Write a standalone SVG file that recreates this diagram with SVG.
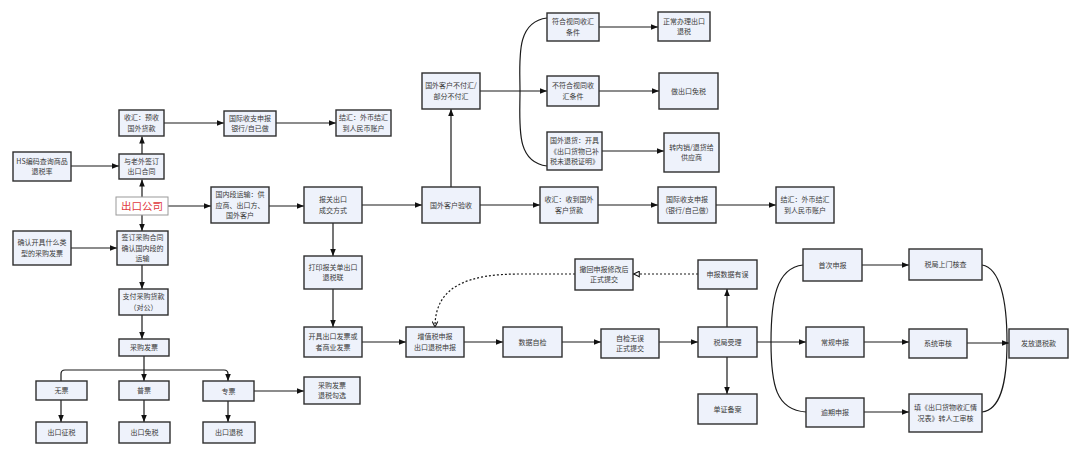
<svg xmlns="http://www.w3.org/2000/svg" width="1080" height="454" viewBox="0 0 1080 454">
<defs>
<style>
.b{fill:#eef2fb;stroke:#2e2e2e;stroke-width:1.4}
.t{font-family:"Noto Sans CJK SC","Noto Sans",sans-serif;font-size:7px;fill:#3a3a3a;text-anchor:middle}
.r{font-family:"Noto Sans CJK SC","Noto Sans",sans-serif;font-size:10.5px;fill:#e0393e;text-anchor:middle}
.c{fill:none;stroke:#1a1a1a;stroke-width:1.2}
.d{fill:none;stroke:#1a1a1a;stroke-width:1.2;stroke-dasharray:2 2}
</style>
<marker id="a" viewBox="0 0 10 10" refX="10" refY="5" markerWidth="7" markerHeight="7" orient="auto" markerUnits="userSpaceOnUse"><path d="M0,1 L10,5 L0,9 z" fill="#111"/></marker>
<marker id="o" viewBox="0 0 10 10" refX="10" refY="5" markerWidth="7" markerHeight="7" orient="auto" markerUnits="userSpaceOnUse"><path d="M1,1 L9,5 L1,9 z" fill="#fff" stroke="#111" stroke-width="1.5"/></marker>
<marker id="v" viewBox="0 0 10 10" refX="9" refY="5" markerWidth="7" markerHeight="7" orient="auto" markerUnits="userSpaceOnUse"><path d="M1,1 L9,5 L1,9" fill="none" stroke="#111" stroke-width="1.5"/></marker>
</defs>
<rect width="1080" height="454" fill="#fff"/>
<g id="connectors">
<path class="c" marker-end="url(#a)" d="M142,197 V179.5"/>
<path class="c" marker-end="url(#a)" d="M142,154 V136.5"/>
<path class="c" marker-end="url(#a)" d="M164,123 H224"/>
<path class="c" marker-end="url(#a)" d="M276,123 H336"/>
<path class="c" marker-end="url(#a)" d="M71,166 H119"/>
<path class="c" marker-end="url(#a)" d="M142,215 V231"/>
<path class="c" marker-end="url(#a)" d="M71,248 H117"/>
<path class="c" marker-end="url(#a)" d="M142,265 V289"/>
<path class="c" marker-end="url(#a)" d="M142,315 V339"/>
<path class="c" marker-end="url(#a)" d="M144,356 V381"/>
<path class="c" marker-end="url(#a)" d="M61,381 V374 Q61,370 65,370 H224 Q228,370 228,374 V381"/>
<path class="c" marker-end="url(#a)" d="M61,400 V422"/>
<path class="c" marker-end="url(#a)" d="M144,400 V422"/>
<path class="c" marker-end="url(#a)" d="M228,401 V422"/>
<path class="c" marker-end="url(#a)" d="M254,391 H304"/>
<path class="c" marker-end="url(#a)" d="M168,206 H211"/>
<path class="c" marker-end="url(#a)" d="M269,206 H304"/>
<path class="c" marker-end="url(#a)" d="M362,205 H422"/>
<path class="c" marker-end="url(#a)" d="M333,223 V256"/>
<path class="c" marker-end="url(#a)" d="M333,289 V327"/>
<path class="c" marker-end="url(#a)" d="M362,342 H406"/>
<path class="c" marker-end="url(#a)" d="M464,342 H503"/>
<path class="c" marker-end="url(#a)" d="M562,342 H601"/>
<path class="c" marker-end="url(#a)" d="M659,342 H698"/>
<path class="c" marker-end="url(#a)" d="M451,187 V109"/>
<path class="c" marker-end="url(#a)" d="M480,91 H547"/>
<path class="c" d="M547,18 C515,22 520,60 520,91 C520,125 515,162 547,166"/>
<path class="c" marker-end="url(#a)" d="M599,27 H658"/>
<path class="c" marker-end="url(#a)" d="M599,91 H659"/>
<path class="c" marker-end="url(#a)" d="M602,151 H664"/>
<path class="c" marker-end="url(#a)" d="M480,205 H540"/>
<path class="c" marker-end="url(#a)" d="M598,205 H658"/>
<path class="c" marker-end="url(#a)" d="M716,205 H776"/>
<path class="c" marker-end="url(#a)" d="M727,327 V289"/>
<path class="c" marker-end="url(#a)" d="M727,357 V394"/>
<path class="d" marker-end="url(#o)" d="M698,274 H633"/>
<path class="d" marker-end="url(#v)" d="M575,274 H520 C470,274 435,285 435,327"/>
<path class="c" marker-end="url(#a)" d="M757,342 H806"/>
<path class="c" d="M803,265 C776,268 771,300 771,342 C771,385 776,410 806,412"/>
<path class="c" marker-end="url(#a)" d="M862,265 H909"/>
<path class="c" marker-end="url(#a)" d="M864,342 H909"/>
<path class="c" marker-end="url(#a)" d="M864,412 H909"/>
<path class="c" d="M982,265 C1000,268 1007,300 1007,342 C1007,385 1000,410 982,412"/>
<path class="c" marker-end="url(#a)" d="M967,343 H1009"/>
</g>
<g id="recv1"><rect class="b" x="119" y="110" width="45" height="26"/><text class="t" x="141.5" y="120.4">收汇：预收</text><text class="t" x="141.5" y="130.9">国外货款</text></g>
<g id="intl1"><rect class="b" x="224" y="111" width="52" height="25"/><text class="t" x="250" y="120.9">国际收支申报</text><text class="t" x="250" y="131.4">银行/自已做</text></g>
<g id="fx1"><rect class="b" x="336" y="110" width="55" height="26"/><text class="t" x="363.5" y="120.4">结汇：外币结汇</text><text class="t" x="363.5" y="130.9">到人民币账户</text></g>
<g id="hs"><rect class="b" x="13" y="152" width="58" height="29"/><text class="t" x="42" y="163.9">HS编码查询商品</text><text class="t" x="42" y="174.4">退税率</text></g>
<g id="contract"><rect class="b" x="119" y="154" width="45" height="25"/><text class="t" x="141.5" y="163.9">与老外签订</text><text class="t" x="141.5" y="174.4">出口合同</text></g>
<g id="company"><rect x="116" y="197" width="52" height="18" fill="#fff" stroke="#9a9a9a" stroke-width="1"/><text class="r" x="142" y="209.8">出口公司</text></g>
<g id="domestic"><rect class="b" x="211" y="187" width="58" height="36"/><text class="t" x="240" y="197.1">国内段运输：供</text><text class="t" x="240" y="207.6">应商、出口方、</text><text class="t" x="240" y="218.1">国外客户</text></g>
<g id="confirm"><rect class="b" x="13" y="231" width="58" height="34"/><text class="t" x="42" y="245.4">确认开具什么类</text><text class="t" x="42" y="255.9">型的采购发票</text></g>
<g id="purchase"><rect class="b" x="117" y="231" width="51" height="34"/><text class="t" x="142.5" y="240.1">签订采购合同</text><text class="t" x="142.5" y="250.6">确认国内段的</text><text class="t" x="142.5" y="261.1">运输</text></g>
<g id="pay"><rect class="b" x="119" y="289" width="49" height="26"/><text class="t" x="143.5" y="299.4">支付采购货款</text><text class="t" x="143.5" y="309.9">（对公）</text></g>
<g id="invoice"><rect class="b" x="119" y="339" width="50" height="17"/><text class="t" x="144" y="350.1">采购发票</text></g>
<g id="none"><rect class="b" x="36" y="381" width="51" height="19"/><text class="t" x="61.5" y="393.1">无票</text></g>
<g id="normal"><rect class="b" x="119" y="381" width="50" height="19"/><text class="t" x="144" y="393.1">普票</text></g>
<g id="special"><rect class="b" x="203" y="381" width="51" height="20"/><text class="t" x="228.5" y="393.6">专票</text></g>
<g id="levy"><rect class="b" x="36" y="422" width="51" height="21"/><text class="t" x="61.5" y="435.1">出口征税</text></g>
<g id="exempt"><rect class="b" x="119" y="422" width="51" height="21"/><text class="t" x="144.5" y="435.1">出口免税</text></g>
<g id="refund"><rect class="b" x="203" y="422" width="52" height="21"/><text class="t" x="229" y="435.1">出口退税</text></g>
<g id="check"><rect class="b" x="304" y="377" width="56" height="27"/><text class="t" x="332" y="387.9">采购发票</text><text class="t" x="332" y="398.4">退税勾选</text></g>
<g id="customs"><rect class="b" x="304" y="187" width="58" height="36"/><text class="t" x="333" y="202.4">报关出口</text><text class="t" x="333" y="212.9">成交方式</text></g>
<g id="print"><rect class="b" x="304" y="256" width="58" height="33"/><text class="t" x="333" y="269.9">打印报关单出口</text><text class="t" x="333" y="280.4">退税联</text></g>
<g id="issue"><rect class="b" x="304" y="327" width="58" height="30"/><text class="t" x="333" y="339.4">开具出口发票或</text><text class="t" x="333" y="349.9">者商业发票</text></g>
<g id="accept"><rect class="b" x="422" y="187" width="58" height="36"/><text class="t" x="451" y="207.6">国外客户验收</text></g>
<g id="unpaid"><rect class="b" x="422" y="73" width="58" height="36"/><text class="t" x="451" y="88.4">国外客户不付汇/</text><text class="t" x="451" y="98.9">部分不付汇</text></g>
<g id="meet"><rect class="b" x="547" y="13" width="52" height="28"/><text class="t" x="573" y="24.4">符合视同收汇</text><text class="t" x="573" y="34.9">条件</text></g>
<g id="notmeet"><rect class="b" x="547" y="76" width="52" height="30"/><text class="t" x="573" y="88.4">不符合视同收</text><text class="t" x="573" y="98.9">汇条件</text></g>
<g id="returned"><rect class="b" x="547" y="132" width="55" height="38"/><text class="t" x="574.5" y="143.1">国外退货：开具</text><text class="t" x="574.5" y="153.6">《出口货物已补</text><text class="t" x="574.5" y="164.1">税未退税证明》</text></g>
<g id="normalref"><rect class="b" x="658" y="12" width="52" height="29"/><text class="t" x="684" y="23.9">正常办理出口</text><text class="t" x="684" y="34.4">退税</text></g>
<g id="doexempt"><rect class="b" x="659" y="73" width="59" height="36"/><text class="t" x="688.5" y="93.6">做出口免税</text></g>
<g id="resale"><rect class="b" x="664" y="133" width="55" height="39"/><text class="t" x="691.5" y="149.9">转内销/退货给</text><text class="t" x="691.5" y="160.4">供应商</text></g>
<g id="recv2"><rect class="b" x="540" y="187" width="58" height="36"/><text class="t" x="569" y="202.4">收汇：收到国外</text><text class="t" x="569" y="212.9">客户货款</text></g>
<g id="intl2"><rect class="b" x="658" y="187" width="58" height="36"/><text class="t" x="687" y="202.4">国际收支申报</text><text class="t" x="687" y="212.9">（银行/自己做）</text></g>
<g id="fx2"><rect class="b" x="776" y="187" width="58" height="36"/><text class="t" x="805" y="202.4">结汇：外币结汇</text><text class="t" x="805" y="212.9">到人民币账户</text></g>
<g id="vat"><rect class="b" x="406" y="327" width="58" height="30"/><text class="t" x="435" y="339.4">增值税申报</text><text class="t" x="435" y="349.9">出口退税申报</text></g>
<g id="selfcheck"><rect class="b" x="503" y="327" width="59" height="30"/><text class="t" x="532.5" y="344.6">数据自检</text></g>
<g id="submit"><rect class="b" x="601" y="329" width="58" height="29"/><text class="t" x="630" y="340.9">自检无误</text><text class="t" x="630" y="351.4">正式提交</text></g>
<g id="taxacc"><rect class="b" x="698" y="327" width="59" height="30"/><text class="t" x="727.5" y="344.6">税局受理</text></g>
<g id="error"><rect class="b" x="698" y="260" width="59" height="29"/><text class="t" x="727.5" y="277.1">申报数据有误</text></g>
<g id="withdraw"><rect class="b" x="575" y="259" width="58" height="31"/><text class="t" x="604" y="271.9">撤回申报修改后</text><text class="t" x="604" y="282.4">正式提交</text></g>
<g id="filing"><rect class="b" x="698" y="394" width="59" height="30"/><text class="t" x="727.5" y="411.6">单证备案</text></g>
<g id="first"><rect class="b" x="803" y="249" width="59" height="32"/><text class="t" x="832.5" y="267.6">首次申报</text></g>
<g id="inspect"><rect class="b" x="909" y="249" width="73" height="31"/><text class="t" x="945.5" y="267.1">税局上门核查</text></g>
<g id="regular"><rect class="b" x="806" y="327" width="58" height="30"/><text class="t" x="835" y="344.6">常规申报</text></g>
<g id="sysreview"><rect class="b" x="909" y="329" width="58" height="29"/><text class="t" x="938" y="346.1">系统审核</text></g>
<g id="payout"><rect class="b" x="1009" y="329" width="59" height="29"/><text class="t" x="1038.5" y="346.1">发放退税款</text></g>
<g id="overdue"><rect class="b" x="806" y="398" width="58" height="29"/><text class="t" x="835" y="415.1">逾期申报</text></g>
<g id="manual"><rect class="b" x="909" y="394" width="73" height="38"/><text class="t" x="945.5" y="410.4">填《出口货物收汇情</text><text class="t" x="945.5" y="420.9">况表》转人工审核</text></g>
</svg>
